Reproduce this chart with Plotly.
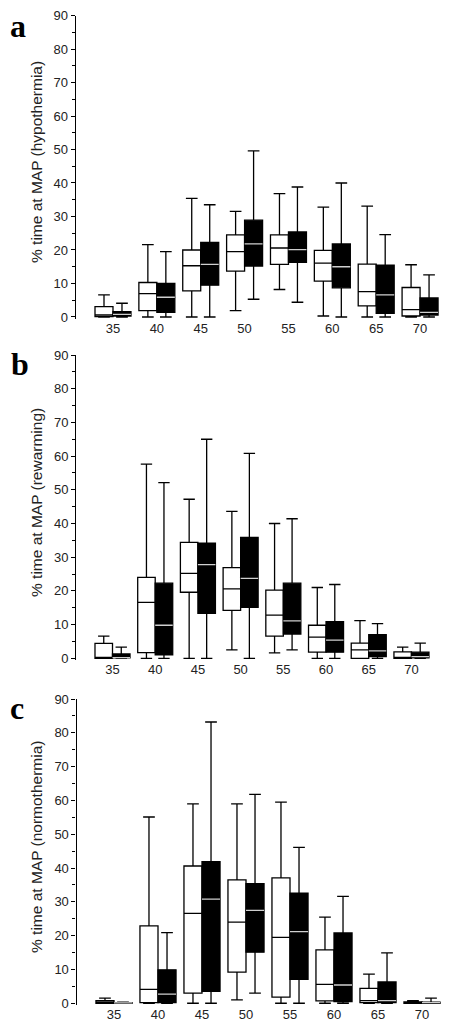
import plotly.graph_objects as go

categories = ["35", "40", "45", "50", "55", "60", "65", "70"]

# Panel a (hypothermia)
a_white_low = [0, 0, 0, 1.9, 8.2, 0.3, 0, 0]
a_white_q1 = [0.1, 1.9, 7.8, 13.7, 15.7, 10.7, 3.3, 0.3]
a_white_med = [0.6, 7.0, 15.3, 19.5, 20.6, 16.1, 7.6, 2.2]
a_white_q3 = [3.1, 10.3, 20.0, 24.5, 24.5, 19.9, 15.8, 8.8]
a_white_up = [6.6, 21.6, 35.4, 31.5, 36.8, 32.8, 33.1, 15.6]
a_black_low = [0, 0, 0, 5.3, 4.4, 0, 0, 0]
a_black_q1 = [0.3, 1.4, 9.5, 15.2, 16.3, 8.7, 1.1, 0.6]
a_black_med = [0.8, 5.9, 15.7, 21.8, 20.1, 15.0, 6.6, 1.4]
a_black_q3 = [1.6, 10.0, 22.3, 28.9, 25.4, 21.8, 15.5, 5.7]
a_black_up = [4.1, 19.5, 33.5, 49.6, 38.8, 40.0, 24.6, 12.6]

# Panel b (rewarming)
b_white_low = [0, 0, 0, 2.5, 1.6, 0, 0, 0]
b_white_q1 = [0, 1.7, 19.6, 14.2, 6.6, 1.8, 0, 0]
b_white_med = [0.2, 16.6, 25.2, 20.6, 12.8, 6.3, 2.5, 0.2]
b_white_q3 = [4.4, 24.0, 34.4, 26.9, 20.2, 9.8, 4.5, 1.9]
b_white_up = [6.6, 57.6, 47.2, 43.6, 40.0, 21.0, 11.2, 3.3]
b_black_low = [0, 0, 0, 0, 2.5, 0, 0, 0]
b_black_q1 = [0.1, 1.0, 13.3, 15.1, 7.2, 1.8, 0.5, 0.1]
b_black_med = [0.2, 9.8, 27.8, 23.7, 11.1, 5.4, 2.2, 0.5]
b_black_q3 = [1.3, 22.3, 34.2, 35.9, 22.3, 10.9, 7.0, 1.8]
b_black_up = [3.3, 52.1, 65.0, 60.8, 41.4, 21.9, 10.3, 4.5]

# Panel c (normothermia)
c_white_low = [0, 0, 0, 1.0, 0, 0, 0, 0]
c_white_q1 = [0, 0.2, 3.0, 9.2, 1.8, 0.7, 0.2, 0]
c_white_med = [0.3, 4.1, 26.6, 24.0, 19.5, 5.6, 0.8, 0.2]
c_white_q3 = [0.8, 22.9, 40.6, 36.5, 37.1, 15.8, 4.4, 0.4]
c_white_up = [1.5, 55.1, 59.0, 59.0, 59.5, 25.5, 8.6, 0.8]
c_black_low = [0, 0, 0, 3.0, 0, 0, 0, 0]
c_black_q1 = [0, 0.2, 3.5, 15.1, 7.1, 0.5, 0.2, 0]
c_black_med = [0.1, 2.7, 30.8, 27.5, 21.2, 5.4, 0.8, 0.2]
c_black_q3 = [0.2, 9.9, 41.9, 35.4, 32.6, 20.8, 6.3, 0.3]
c_black_up = [0.3, 20.9, 83.2, 61.8, 46.1, 31.6, 14.9, 1.5]

y_titles = ["% time at MAP (hypothermia)", "% time at MAP (rewarming)",
            "% time at MAP (normothermia)"]
panel_letters = ["a", "b", "c"]
y_tickvals = [0, 10, 20, 30, 40, 50, 60, 70, 80, 90]

panels = [
    (a_white_low, a_white_q1, a_white_med, a_white_q3, a_white_up,
     a_black_low, a_black_q1, a_black_med, a_black_q3, a_black_up),
    (b_white_low, b_white_q1, b_white_med, b_white_q3, b_white_up,
     b_black_low, b_black_q1, b_black_med, b_black_q3, b_black_up),
    (c_white_low, c_white_q1, c_white_med, c_white_q3, c_white_up,
     c_black_low, c_black_q1, c_black_med, c_black_q3, c_black_up),
]

W, H = 450, 1030
OFF = 8  # the page body margin shifts the figure by 8 px right and down
# on-screen pixel layout (left, right, top, bottom) per panel
px_x = [(75.7, 442.0), (76.2, 432.8), (76.6, 444.0)]
px_y = [(15.5, 319.0), (355.0, 660.3), (699.0, 1005.3)]
title_y = [162, 503, 847]
letter_y = [26, 364, 708]
letter_x = [8, 9, 8]

LW = 1.3
font_axis = "Liberation Sans, Arial, sans-serif"

fig = go.Figure()
for i, p in enumerate(panels):
    wl, wq1, wm, wq3, wu, kl, kq1, km, kq3, ku = p
    xa = "x" if i == 0 else f"x{i+1}"
    ya = "y" if i == 0 else f"y{i+1}"
    common = dict(x=categories, xaxis=xa, yaxis=ya, showlegend=False,
                  hoverinfo="skip", whiskerwidth=0.65, boxpoints=False)
    fig.add_trace(go.Box(lowerfence=wl, q1=wq1, median=wm, q3=wq3, upperfence=wu,
                         fillcolor="white", line=dict(color="black", width=LW),
                         offsetgroup="w", **common))
    fig.add_trace(go.Box(lowerfence=kl, q1=kq1, median=km, q3=kq3, upperfence=ku,
                         fillcolor="black", line=dict(color="black", width=LW),
                         offsetgroup="k", **common))
    # light median line inside black boxes
    fig.add_trace(go.Box(lowerfence=km, q1=km, median=km, q3=km, upperfence=km,
                         fillcolor="rgba(0,0,0,0)", line=dict(color="#cfcfcf", width=LW),
                         offsetgroup="k", **common))

    x0, x1 = [v - OFF for v in px_x[i]]
    yt, yb = [v - OFF for v in px_y[i]]
    xkey = "xaxis" if i == 0 else f"xaxis{i+1}"
    ykey = "yaxis" if i == 0 else f"yaxis{i+1}"
    fig.layout[xkey] = dict(
        domain=[x0 / W, x1 / W], anchor=ya, type="category",
        range=[-0.85, 7.5], showline=False, ticks="", showgrid=False,
        zeroline=False, tickfont=dict(family=font_axis, size=13, color="#222"),
        automargin=False, fixedrange=True)
    fig.layout[ykey] = dict(
        domain=[1 - yb / H, 1 - yt / H], anchor=xa, range=[-0.6, 90],
        tickvals=y_tickvals, showline=True, linecolor="black", linewidth=LW,
        ticks="outside", ticklen=4, tickwidth=1.1, tickcolor="black",
        minor=dict(dtick=5, tick0=0, ticks="outside", ticklen=3, tickwidth=1.1,
                   tickcolor="black"),
        showgrid=False, zeroline=False,
        tickfont=dict(family=font_axis, size=13, color="#222"),
        automargin=False, fixedrange=True)
    fig.add_annotation(text=y_titles[i], xref="paper", yref="paper",
                       x=(36 - OFF) / W, y=1 - (title_y[i] - OFF) / H, textangle=-90,
                       showarrow=False, xanchor="center", yanchor="middle",
                       font=dict(family=font_axis, size=15.5, color="#222"))
    fig.add_annotation(text=panel_letters[i], xref="paper", yref="paper",
                       x=(letter_x[i] - OFF) / W, y=1 - (letter_y[i] - OFF) / H,
                       showarrow=False, xanchor="left", yanchor="middle",
                       font=dict(family="Liberation Serif, Times New Roman, serif",
                                 size=32, color="black", weight="bold"))

fig.update_layout(
    width=W, height=H, margin=dict(l=0, r=0, t=0, b=0),
    paper_bgcolor="white", plot_bgcolor="white",
    boxmode="group", boxgap=0.18, boxgroupgap=0,
)

fig.write_html("out.html")
